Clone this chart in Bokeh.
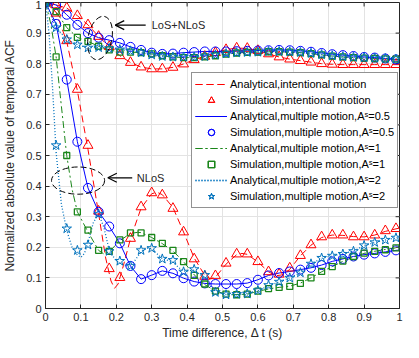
from bokeh.plotting import figure
from bokeh.models import (Legend, LegendItem, Arrow, OpenHead, Label, FixedTicker)
from bokeh.embed import file_html
from bokeh.resources import INLINE

# ---------------- data ----------------
t_sim = [0.00, 0.03, 0.06, 0.09, 0.12, 0.15, 0.18, 0.21, 0.24, 0.27,
         0.30, 0.33, 0.36, 0.39, 0.42, 0.45, 0.48, 0.51, 0.54, 0.57,
         0.60, 0.63, 0.66, 0.69, 0.72, 0.75, 0.78, 0.81, 0.84, 0.87,
         0.90, 0.93, 0.96, 0.99]

# LoS+NLoS (upper group)
up_intent = [1.0, 0.992, 0.982, 0.957, 0.927, 0.889, 0.856, 0.826, 0.804, 0.789,
             0.783, 0.783, 0.788, 0.799, 0.813, 0.824, 0.836, 0.846, 0.851, 0.850,
             0.843, 0.832, 0.822, 0.815, 0.810, 0.805, 0.800, 0.798, 0.797, 0.797,
             0.797, 0.797, 0.797, 0.797]
up_as05 = [1.0, 0.992, 0.960, 0.927, 0.900, 0.885, 0.877, 0.868, 0.855, 0.845,
           0.836, 0.832, 0.833, 0.836, 0.838, 0.840, 0.840, 0.840, 0.841, 0.842,
           0.843, 0.844, 0.845, 0.844, 0.842, 0.839, 0.835, 0.831, 0.828, 0.825,
           0.822, 0.820, 0.817, 0.814]
up_as1 = [1.0, 0.970, 0.918, 0.886, 0.873, 0.857, 0.845, 0.838, 0.838, 0.836,
          0.832, 0.826, 0.822, 0.820, 0.820, 0.822, 0.826, 0.831, 0.835, 0.837,
          0.838, 0.839, 0.839, 0.838, 0.836, 0.833, 0.829, 0.825, 0.822, 0.820,
          0.818, 0.817, 0.816, 0.815]
up_as2 = [1.0, 0.918, 0.879, 0.862, 0.852, 0.853, 0.850, 0.846, 0.842, 0.836,
          0.829, 0.824, 0.822, 0.822, 0.822, 0.824, 0.829, 0.833, 0.836, 0.837,
          0.838, 0.840, 0.840, 0.839, 0.837, 0.834, 0.830, 0.826, 0.823, 0.821,
          0.820, 0.818, 0.817, 0.815]

# NLoS (lower group) - simulation markers
lo_intent = [1.0, 0.965, 0.875, 0.716, 0.533, 0.318, 0.130, 0.101, 0.229, 0.332,
             0.378, 0.371, 0.327, 0.250, 0.162, 0.105, 0.107, 0.148, 0.178, 0.178,
             0.153, 0.120, 0.112, 0.132, 0.173, 0.208, 0.234, 0.240, 0.240, 0.234,
             0.234, 0.240, 0.254, 0.261]
lo_as05 = [1.0, 0.930, 0.748, 0.545, 0.394, 0.316, 0.268, 0.213, 0.139, 0.096,
           0.109, 0.123, 0.115, 0.099, 0.088, 0.082, 0.080, 0.080, 0.080, 0.083,
           0.094, 0.108, 0.116, 0.121, 0.127, 0.133, 0.142, 0.154, 0.162, 0.170,
           0.176, 0.180, 0.185, 0.190]
lo_as1 = [1.0, 0.822, 0.500, 0.316, 0.256, 0.190, 0.187, 0.224, 0.247, 0.247,
          0.232, 0.213, 0.190, 0.153, 0.108, 0.080, 0.057, 0.047, 0.045, 0.047,
          0.057, 0.065, 0.069, 0.072, 0.082, 0.100, 0.121, 0.137, 0.155, 0.170,
          0.181, 0.187, 0.192, 0.198]
lo_as2 = [1.0, 0.533, 0.261, 0.190, 0.208, 0.309, 0.187, 0.155, 0.139, 0.190,
          0.197, 0.162, 0.158, 0.120, 0.128, 0.109, 0.053, 0.045, 0.047, 0.048,
          0.059, 0.076, 0.087, 0.100, 0.117, 0.146, 0.165, 0.172, 0.178, 0.187,
          0.206, 0.216, 0.224, 0.231]

# analytical curves
t_ana_up = t_sim + [1.0]
ana_up_intent = up_intent + [0.797]
ana_up_as05 = up_as05 + [0.813]
ana_up_as1 = up_as1 + [0.815]
ana_up_as2 = up_as2 + [0.815]

t_ana_lo_intent = [0, 0.03, 0.06, 0.09, 0.12, 0.15, 0.17, 0.185, 0.195, 0.205,
                   0.22, 0.24, 0.27, 0.30, 0.315, 0.33, 0.36, 0.39, 0.42, 0.45,
                   0.465, 0.48, 0.51, 0.54, 0.555, 0.57, 0.60, 0.63, 0.65, 0.67,
                   0.69, 0.72, 0.75, 0.78, 0.81, 0.84, 0.87, 0.90, 0.93, 0.96, 1.0]
ana_lo_intent = [1, 0.968, 0.872, 0.712, 0.52, 0.31, 0.165, 0.09, 0.066, 0.08,
                 0.14, 0.228, 0.328, 0.375, 0.38, 0.372, 0.33, 0.25, 0.165, 0.108,
                 0.097, 0.102, 0.145, 0.176, 0.18, 0.177, 0.152, 0.12, 0.107, 0.11,
                 0.128, 0.172, 0.207, 0.232, 0.24, 0.239, 0.235, 0.234, 0.24, 0.252, 0.263]

t_ana_lo_as05 = t_sim + [1.0]
ana_lo_as05 = lo_as05 + [0.191]

t_ana_lo_as1 = [0, 0.015, 0.03, 0.045, 0.06, 0.075, 0.09, 0.12, 0.15, 0.165,
                0.18, 0.21, 0.24, 0.26, 0.27, 0.30, 0.33, 0.36, 0.39, 0.42,
                0.45, 0.48, 0.51, 0.53, 0.57, 0.60, 0.63, 0.66, 0.69, 0.72,
                0.75, 0.78, 0.81, 0.84, 0.87, 0.90, 0.93, 0.96, 1.0]
ana_lo_as1 = [1, 0.93, 0.822, 0.66, 0.5, 0.39, 0.316, 0.25, 0.19, 0.178,
              0.185, 0.222, 0.245, 0.249, 0.248, 0.232, 0.212, 0.188, 0.153, 0.11,
              0.078, 0.057, 0.047, 0.045, 0.047, 0.056, 0.064, 0.069, 0.073, 0.083,
              0.1, 0.12, 0.137, 0.154, 0.168, 0.18, 0.187, 0.193, 0.2]

t_ana_lo_as2 = [0, 0.01, 0.02, 0.03, 0.045, 0.06, 0.075, 0.09, 0.1, 0.11,
                0.12, 0.135, 0.15, 0.165, 0.18, 0.2, 0.225, 0.245, 0.27, 0.285,
                0.30, 0.33, 0.36, 0.375, 0.39, 0.42, 0.45, 0.47, 0.5, 0.53,
                0.56, 0.6, 0.63, 0.66, 0.69, 0.72, 0.75, 0.78, 0.81, 0.84,
                0.87, 0.9, 0.93, 0.96, 1.0]
ana_lo_as2 = [1, 0.9, 0.72, 0.51, 0.34, 0.255, 0.2, 0.175, 0.167, 0.18,
              0.215, 0.28, 0.31, 0.265, 0.19, 0.155, 0.14, 0.145, 0.185, 0.198,
              0.195, 0.163, 0.152, 0.135, 0.122, 0.125, 0.1, 0.065, 0.046, 0.045,
              0.047, 0.058, 0.074, 0.087, 0.1, 0.117, 0.145, 0.164, 0.172, 0.179,
              0.188, 0.205, 0.216, 0.224, 0.233]

x_ticks = [0, 0.1, 0.2, 0.3, 0.4, 0.5, 0.6, 0.7, 0.8, 0.9, 1]
y_ticks = [0, 0.1, 0.2, 0.3, 0.4, 0.5, 0.6, 0.7, 0.8, 0.9, 1]

legend_labels = [
    "Analytical,intentional motion",
    "Simulation,intentional motion",
    "Analytical,multiple motion,A\u02e2=0.5",
    "Simulation,multiple motion,A\u02e2=0.5",
    "Analytical,multiple motion,A\u02e2=1",
    "Simulation,multiple motion,A\u02e2=1",
    "Analytical,multiple motion,A\u02e2=2",
    "Simulation,multiple motion,A\u02e2=2",
]

# ---------------- styles ----------------
RED = "#ff0000"
BLUE = "#0000ff"
GREEN = "#1a861a"
SKY = "#0072bd"
AX = "#262626"
FONT = "Liberation Sans"

p = figure(width=403, height=342, x_range=(0, 1), y_range=(0, 1),
           output_backend="svg", toolbar_location=None,
           min_border_left=39, min_border_right=4, min_border_top=2,
           min_border_bottom=33)
p.background_fill_color = "white"
p.border_fill_color = "white"
p.outline_line_color = AX
p.outline_line_width = 1

for ax, ticks in ((p.xaxis[0], x_ticks), (p.yaxis[0], y_ticks)):
    ax.ticker = FixedTicker(ticks=ticks)
    ax.major_label_overrides = {0: "0", 1: "1"}
    ax.major_tick_in = 4
    ax.major_tick_out = 0
    ax.minor_tick_in = 0
    ax.minor_tick_out = 0
    ax.axis_line_color = AX
    ax.major_tick_line_color = AX
    ax.major_label_text_font = FONT
    ax.major_label_text_font_size = "11px"
    ax.major_label_text_color = AX
    ax.axis_label_text_font = FONT
    ax.axis_label_text_font_size = "12px"
    ax.axis_label_text_font_style = "normal"
    ax.axis_label_text_color = AX
    ax.major_label_standoff = 4
p.xaxis.axis_label = "Time difference, \u0394 t (s)"
p.yaxis.axis_label = "Normalized absolute value of temporal ACF"
p.xaxis.axis_label_standoff = 2
p.yaxis.axis_label_standoff = 6

p.grid.grid_line_color = "#e3e3e3"
p.grid.grid_line_width = 1

# box-style inward ticks on the top and right edges (derived from the tick lists)
TOP_TICK = 0.013
RIGHT_TICK = 0.011
p.segment(x0=x_ticks, y0=[1.0] * len(x_ticks), x1=x_ticks,
          y1=[1.0 - TOP_TICK] * len(x_ticks), line_color=AX, line_width=1)
p.segment(x0=[1.0] * len(y_ticks), y0=y_ticks, x1=[1.0 - RIGHT_TICK] * len(y_ticks),
          y1=y_ticks, line_color=AX, line_width=1)

# ---------------- curves ----------------
r_a_int = [p.line(t_ana_up, ana_up_intent, line_color=RED, line_dash="7 4", line_width=1),
           p.line(t_ana_lo_intent, ana_lo_intent, line_color=RED, line_dash="7 4", line_width=1)]
r_a_05 = [p.line(t_ana_up, ana_up_as05, line_color=BLUE, line_width=1),
          p.line(t_ana_lo_as05, ana_lo_as05, line_color=BLUE, line_width=1)]
r_a_1 = [p.line(t_ana_up, ana_up_as1, line_color=GREEN, line_dash="7 3 2 3", line_width=1),
         p.line(t_ana_lo_as1, ana_lo_as1, line_color=GREEN, line_dash="7 3 2 3", line_width=1)]
r_a_2 = [p.line(t_ana_up, ana_up_as2, line_color=SKY, line_dash="1 2", line_width=1.3),
         p.line(t_ana_lo_as2, ana_lo_as2, line_color=SKY, line_dash="1 2", line_width=1.3)]

mk = dict(fill_color=None, line_width=1)
r_s_int = [p.scatter(t_sim, up_intent, marker="triangle", size=10, line_color=RED, **mk),
           p.scatter(t_sim, lo_intent, marker="triangle", size=10, line_color=RED, **mk)]
r_s_05 = [p.scatter(t_sim, up_as05, marker="circle", size=9, line_color=BLUE, **mk),
          p.scatter(t_sim, lo_as05, marker="circle", size=9, line_color=BLUE, **mk)]
r_s_1 = [p.scatter(t_sim, up_as1, marker="square", size=6, line_color=GREEN, line_width=1.3, fill_color=None),
         p.scatter(t_sim, lo_as1, marker="square", size=6, line_color=GREEN, line_width=1.3, fill_color=None)]
r_s_2 = [p.scatter(t_sim, up_as2, marker="star", size=10, line_color=SKY, **mk),
         p.scatter(t_sim, lo_as2, marker="star", size=10, line_color=SKY, **mk)]

# ---------------- annotations ----------------
ELL_UP = dict(x=0.154, y=0.884, w=0.067, h=0.144, a=-0.2)
ELL_LO = dict(x=0.092, y=0.418, w=0.150, h=0.089, a=0.0)
for e in (ELL_UP, ELL_LO):
    p.ellipse(x=[e["x"]], y=[e["y"]], width=e["w"], height=e["h"], angle=e["a"],
              fill_color=None, line_color="black", line_dash="6 3", line_width=1)

p.add_layout(Arrow(end=OpenHead(size=9, line_color="black", line_width=1.2),
                   x_start=0.283, y_start=0.926, x_end=0.197, y_end=0.926,
                   line_color="black", line_width=1.2))
p.add_layout(Arrow(end=OpenHead(size=9, line_color="black", line_width=1.2),
                   x_start=0.245, y_start=0.427, x_end=0.176, y_end=0.427,
                   line_color="black", line_width=1.2))
p.add_layout(Label(x=0.30, y=0.926, text="LoS+NLoS", text_font=FONT,
                   text_font_size="11px", text_baseline="middle", text_color=AX))
p.add_layout(Label(x=0.258, y=0.427, text="NLoS", text_font=FONT,
                   text_font_size="11px", text_baseline="middle", text_color=AX))

# ---------------- legend ----------------
groups = [r_a_int, r_s_int, r_a_05, r_s_05, r_a_1, r_s_1, r_a_2, r_s_2]
items = [LegendItem(label=lab, renderers=g) for lab, g in zip(legend_labels, groups)]
legend = Legend(items=items, location=(146, 100), label_text_font=FONT,
                label_text_font_size="11px", label_text_color="black",
                glyph_width=32, glyph_height=16, label_height=16, spacing=0,
                padding=3, margin=0, label_standoff=3,
                border_line_color=AX, border_line_width=1,
                background_fill_color="white", background_fill_alpha=1)
p.add_layout(legend)

open("out.html", "w").write(file_html(p, INLINE))
